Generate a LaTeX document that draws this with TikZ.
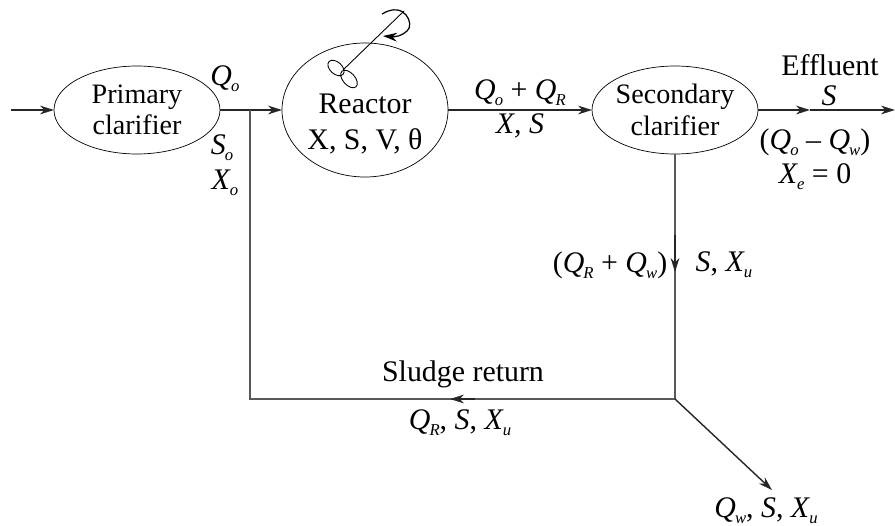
\documentclass[tikz,border=0pt]{standalone}
\usepackage{fontspec}
\setmainfont{Liberation Serif}
\usetikzlibrary{arrows.meta,shapes.geometric}
\newcommand{\flowvar}[2]{\textit{#1}\kern-0.5pt\raisebox{-3.5pt}{\fontsize{9.5}{10}\selectfont\textit{#2}}}
\tikzset{
	tank/.style={draw,ellipse,inner sep=0pt,outer sep=0pt,minimum width=3.32cm,align=center,font=\fontsize{16}{18}\selectfont},
	flowlabel/.style={inner sep=0pt,align=center,font=\fontsize{17}{19}\selectfont},
	pipe/.style={line width=0.8pt,draw=black!85},
	pipethin/.style={line width=0.6pt,draw=black!65}
}
\begin{document}
\begin{tikzpicture}[>={Stealth[length=8pt,width=5pt]}]
	\useasboundingbox (0,0) rectangle (17.9,10.5);
	% 三个池
	\node[tank,minimum height=1.76cm] (primary) at (2.74,8.3) {Primary\\clarifier};
	\node[tank,minimum height=2.68cm] (reactor) at (7.3,8.3) {};
	\node[tank,minimum height=1.76cm] (secondary) at (13.5,8.3) {};
	\node[flowlabel] (reactortext) at (7.3,8.02) {Reactor\\[1pt]X, S, V, θ};
	\node[inner sep=0pt,align=center,font=\fontsize{16}{18}\selectfont] (secondarytext) at (13.5,8.3) {Secondary\\clarifier};
	% 端点
	\coordinate (feed) at (0.22,8.3);
	\coordinate (branch) at (5,8.3);
	\coordinate (corner) at (5,2.52);
	\coordinate (split) at (13.5,2.52);
	\coordinate (waste) at (15.44,0.7);
	\coordinate (outlet) at (17.9,8.3);
	\coordinate (effluentmid) at (16.2,8.3);
	\coordinate (downmid) at (13.5,5.06);
	\coordinate (returnmid) at (9,2.52);
	% 主流程
	\draw[pipe,->] (feed) -- (primary.west);
	\draw[pipe,->] (primary.east) -- (reactor.west);
	\draw[pipe,->] (reactor.east) -- (secondary.west);
	\draw[pipe,->] (secondary.east) -- (effluentmid);
	\draw[pipe,->] (effluentmid) -- (outlet);
	% 污泥回流
	\draw[pipethin] (secondary.south) -- (split) -- (corner) -- (branch);
	\draw[pipe,->] (13.5,5.8) -- (downmid);
	\draw[pipe,->] (9.5,2.52) -- (returnmid);
	\draw[pipe,->] (split) -- (waste);
	% 搅拌器
	\coordinate (shafttop) at (8.08,10.28);
	\coordinate (shaftend) at (6.86,9.1);
	\draw[line width=0.5pt] (shafttop) -- (shaftend);
	\draw[line width=0.5pt,rotate around={-42:(6.72,9.14)}] (6.72,9.14) ellipse (0.19 and 0.12);
	\draw[line width=0.5pt,rotate around={-48:(6.98,8.92)}] (6.98,8.92) ellipse (0.21 and 0.12);
	\draw[line width=0.7pt,->] (7.64,10.22) .. controls (8.1,10.5) and (8.3,10) .. (8.14,9.88) .. controls (8.04,9.78) and (7.9,9.76) .. (7.66,9.78);
	% 标注
	\node[flowlabel] (qin) at (4.5,8.92) {\flowvar{Q}{o}};
	\node[flowlabel] (sin) at (4.44,7.54) {\flowvar{S}{o}};
	\node[flowlabel] (xin) at (4.5,6.84) {\flowvar{X}{o}};
	\node[flowlabel] (qmix) at (10.4,8.64) {\flowvar{Q}{o} + \flowvar{Q}{R}};
	\node[flowlabel] (xmix) at (10.4,7.98) {\textit{X, S}};
	\node[flowlabel] (efftext) at (16.6,9.2) {Effluent};
	\node[flowlabel] (effs) at (16.58,8.58) {\textit{S}};
	\node[flowlabel] (effq) at (16.3,7.66) {(\flowvar{Q}{o} -- \flowvar{Q}{w})};
	\node[flowlabel] (effx) at (16.3,6.96) {\flowvar{X}{e} = 0};
	\node[flowlabel] (downq) at (12.2,5.2) {(\flowvar{Q}{R} + \flowvar{Q}{w})};
	\node[flowlabel] (downs) at (14.48,5.2) {\textit{S}, \flowvar{X}{u}};
	\node[flowlabel] (sludge) at (9.26,3.02) {Sludge return};
	\node[flowlabel] (retq) at (9.2,2.04) {\flowvar{Q}{R}, \textit{S}, \flowvar{X}{u}};
	\node[flowlabel] (wasteq) at (15.32,0.28) {\flowvar{Q}{w}, \textit{S}, \flowvar{X}{u}};
\end{tikzpicture}
\end{document}
